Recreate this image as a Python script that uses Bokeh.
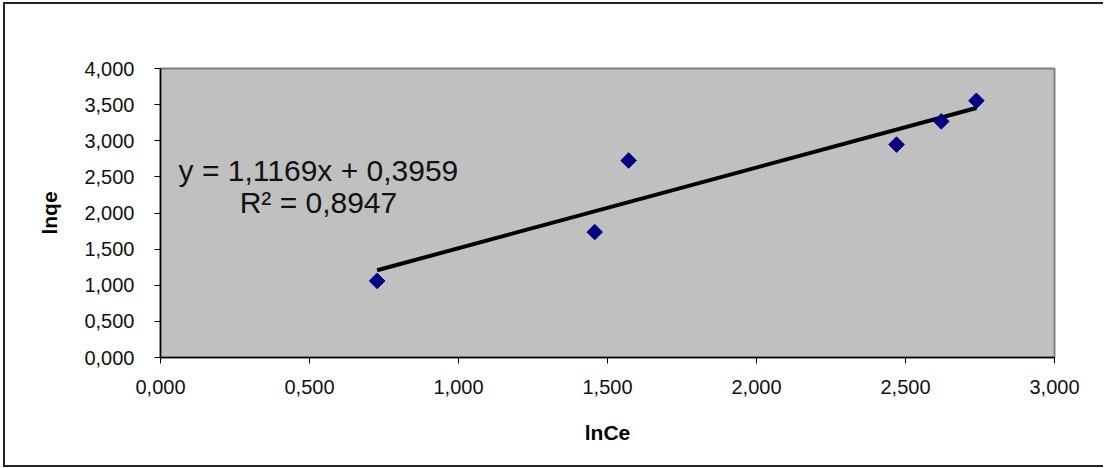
import math
from bokeh.plotting import figure
from bokeh.models import CustomJSTickFormatter, Range1d, FixedTicker
from bokeh.core.properties import value
from bokeh.embed import file_html
from bokeh.resources import INLINE

# data
lnCe = [0.727, 1.457, 1.571, 2.470, 2.620, 2.738]
lnqe = [1.060, 1.736, 2.726, 2.947, 3.268, 3.554]
slope = 1.1169
intercept = 0.3959
eq_lines = ["y = 1,1169x + 0,3959", "R² = 0,8947"]
x_ticks = [0.0, 0.5, 1.0, 1.5, 2.0, 2.5, 3.0]
y_ticks = [0.0, 0.5, 1.0, 1.5, 2.0, 2.5, 3.0, 3.5, 4.0]

FONT = "Liberation Sans"

p = figure(width=1100, height=465, output_backend="svg", toolbar_location=None,
           x_range=Range1d(0, 3), y_range=Range1d(0, 4),
           min_border_left=157, min_border_right=49, min_border_top=66, min_border_bottom=110)
p.margin = (2, 0, 0, 3)
p.border_fill_color = None
p.background_fill_color = "#c0c0c0"
p.outline_line_color = "#808080"
p.outline_line_width = 2
p.styles = {"box-shadow": "inset 2px 2px 0 #222, inset 0 -2px 0 #222", "background": "white"}
p.grid.visible = False

fmt = CustomJSTickFormatter(code="return tick.toFixed(3).replace('.', ',');")
for ax, ticks in ((p.xaxis[0], x_ticks), (p.yaxis[0], y_ticks)):
    ax.ticker = FixedTicker(ticks=ticks)
    ax.formatter = fmt
    ax.axis_line_color = "black"
    ax.axis_line_width = 1.5
    ax.major_tick_line_color = "black"
    ax.major_tick_out = 6
    ax.major_tick_in = 0
    ax.minor_tick_line_color = None
    ax.major_label_text_font = FONT
    ax.major_label_text_font_size = "20px"
    ax.major_label_text_color = "#111"
    ax.axis_label_text_font = FONT
    ax.axis_label_text_font_style = "bold"
    ax.axis_label_text_font_size = "21px"
    ax.axis_label_text_color = "black"

p.xaxis.axis_label = "lnCe"
p.yaxis.axis_label = "lnqe"
p.xaxis.major_label_standoff = 16
p.yaxis.major_label_standoff = 20
p.xaxis.axis_label_standoff = 24
p.yaxis.axis_label_standoff = 20

# trendline
x0, x1 = min(lnCe), max(lnCe)
p.line([x0, x1], [slope * x0 + intercept, slope * x1 + intercept], line_color="black", line_width=4)

# points
p.scatter(lnCe, lnqe, marker="square", angle=math.pi / 4, size=11,
          fill_color="#000080", line_color="#000080")

# equation text
p.text(x=[0.53, 0.53], y=[2.59, 2.15], text=eq_lines,
       text_font=value(FONT), text_font_size="30px", text_align="center",
       text_baseline="alphabetic", text_color="#111")

open("out.html", "w").write(file_html(p, INLINE))
